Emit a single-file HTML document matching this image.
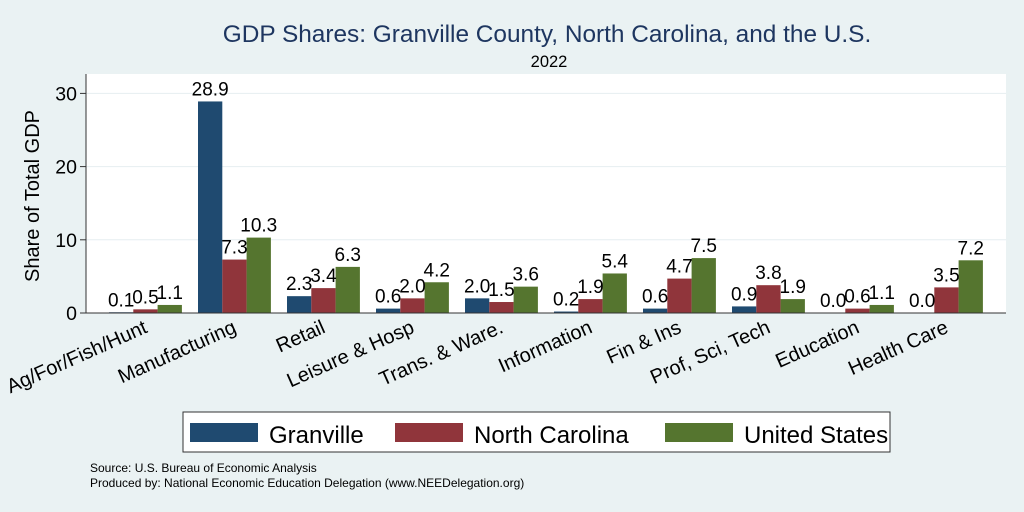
<!DOCTYPE html>
<html><head><meta charset="utf-8"><style>
body{margin:0;background:#eaf2f3;}
svg{display:block;font-family:"Liberation Sans",Arial,sans-serif;}
</style></head><body>
<svg id="chart" width="1024" height="512" viewBox="0 0 1024 512">
<rect x="0" y="0" width="1024" height="512" fill="#eaf2f3"/>
<text x="547" y="42" font-size="24.4" fill="#1e3660" text-anchor="middle">GDP Shares: Granville County, North Carolina, and the U.S.</text>
<text x="549" y="67" font-size="16.5" fill="#000" text-anchor="middle">2022</text>
<rect x="86" y="74" width="920" height="239" fill="#fff"/>
<g id="grid"></g>
<g id="bars"></g>
<g id="labels"></g>
<line x1="86" y1="74" x2="86" y2="313" stroke="#333" stroke-width="1"/>
<line x1="86" y1="313" x2="1006" y2="313" stroke="#333" stroke-width="1"/>
<text transform="translate(39,196) rotate(-90)" font-size="20" text-anchor="middle">Share of Total GDP</text>
<g>
<rect x="183" y="412" width="707" height="40" fill="#fff" stroke="#333" stroke-width="1"/>
<rect x="190" y="423" width="68" height="19" fill="#1f4a70"/>
<text x="269" y="443" font-size="24">Granville</text>
<rect x="395" y="423" width="68" height="19" fill="#90353b"/>
<text x="474" y="443" font-size="24">North Carolina</text>
<rect x="665" y="423" width="68" height="19" fill="#55752f"/>
<text x="744" y="443" font-size="24">United States</text>
</g>
<text x="90" y="472" font-size="12">Source: U.S. Bureau of Economic Analysis</text>
<text x="90" y="487" font-size="12">Produced by: National Economic Education Delegation (www.NEEDelegation.org)</text>
</svg>
<script>
const categories=["Ag/For/Fish/Hunt","Manufacturing","Retail","Leisure & Hosp","Trans. & Ware.","Information","Fin & Ins","Prof, Sci, Tech","Education","Health Care"];
const granville=[0.1,28.9,2.3,0.6,2.0,0.2,0.6,0.9,0.0,0.0];
const northCarolina=[0.5,7.3,3.4,2.0,1.5,1.9,4.7,3.8,0.6,3.5];
const unitedStates=[1.1,10.3,6.3,4.2,3.6,5.4,7.5,1.9,1.1,7.2];
const yTicks=[0,10,20,30];
const seriesNames=["granville","north-carolina","united-states"];
const colors=["#1f4a70","#90353b","#55752f"];
const NS="http://www.w3.org/2000/svg";
const y=v=>313-v*7.32;
const groupX=i=>109+i*89;
const bw=24.3;
function mk(tag,attrs,parent){const e=document.createElementNS(NS,tag);for(const k in attrs)e.setAttribute(k,attrs[k]);parent.appendChild(e);return e;}
const grid=document.getElementById('grid'),bars=document.getElementById('bars'),labels=document.getElementById('labels');
yTicks.forEach(t=>{
  const g=mk('line',{x1:86,x2:1006,y1:y(t),y2:y(t),stroke:t===0?'none':'#e6eef1','stroke-width':1},grid);
  
  
  const tk=mk('line',{x1:80,x2:86,y1:y(t),y2:y(t),stroke:'#333'},grid);
  
  
  const tl=mk('text',{x:77,y:y(t)+7,'font-size':19.5,'text-anchor':'end'},grid);
  tl.textContent=t;
  
  
});
const series=[granville,northCarolina,unitedStates];
categories.forEach((c,i)=>{
  series.forEach((s,j)=>{
    const x=groupX(i)+j*bw,v=s[i];
    const r=mk('rect',{x:x,y:y(v),width:bw,height:313-y(v),fill:colors[j]},bars);
    
    
    const t=mk('text',{x:x+bw/2,y:y(v)-6,'font-size':19,'text-anchor':'middle'},labels);
    t.textContent=v.toFixed(1);
    
    
  });
  const cx=groupX(i)+36.5;
  const cl=mk('text',{transform:'translate('+(cx+3)+',332) rotate(-24)','font-size':20,'text-anchor':'end'},labels);
  cl.textContent=c;
  
  
});
</script>
</body></html>
